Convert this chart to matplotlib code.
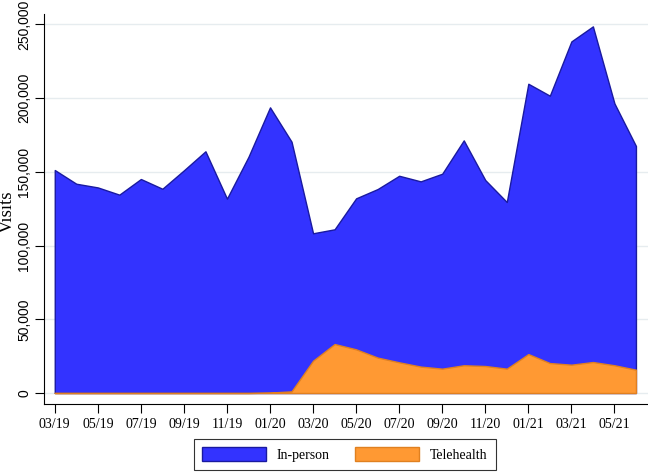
import numpy as np
import matplotlib.pyplot as plt

# visitas mensuales, 03/19 a 06/21
meses = ["03/19", "04/19", "05/19", "06/19", "07/19", "08/19", "09/19", "10/19",
         "11/19", "12/19", "01/20", "02/20", "03/20", "04/20", "05/20", "06/20",
         "07/20", "08/20", "09/20", "10/20", "11/20", "12/20", "01/21", "02/21",
         "03/21", "04/21", "05/21", "06/21"]

presencial = [151200, 141900, 139400, 134500, 145100, 138500, 151000, 163900,
              131800, 160200, 193700, 170400, 108300, 111000, 132000, 138300,
              147300, 143500, 148700, 171300, 144400, 129500, 209700, 201600,
              238400, 248600, 196400, 167500]

telesalud = [0, 0, 0, 0, 0, 0, 0, 0,
             0, 0, 300, 1100, 21900, 33200, 29600, 24000,
             20800, 17900, 16500, 18800, 18300, 16500, 26400, 20300,
             19200, 21000, 18800, 15800]

y_ticks = [0, 50000, 100000, 150000, 200000, 250000]

x = np.arange(len(meses))

fig = plt.figure(figsize=(6.48, 4.72), dpi=100)
ax = fig.add_axes([44 / 648, 1 - 404 / 472, 604 / 648, 390 / 472])

ax.fill_between(x, 0, presencial, facecolor="#3333ff", edgecolor="#1a1aa0",
                linewidth=1.0, label="In-person", zorder=2)
ax.fill_between(x, 0, telesalud, facecolor="#ff9933", edgecolor="#e08020",
                linewidth=1.0, label="Telehealth", zorder=3)

ax.set_xlim(-0.5, 27.56)
ax.set_ylim(-7460, 257000)

ax.set_yticks(y_ticks)
ax.set_yticklabels([f"{v:,}" for v in y_ticks], rotation=90, va="center",
                   family="Liberation Sans", fontsize=10)
ax.set_xticks(x[::2])
ax.set_xticklabels(meses[::2], family="Liberation Serif", fontsize=10)
ax.tick_params(axis="both", direction="out", length=6.5, width=0.8, color="black")
ax.tick_params(axis="y", pad=2.5)

ax.grid(axis="y", color="#e6ecef", linewidth=1.0, zorder=0)
ax.set_axisbelow(True)
for lado in ["top", "right"]:
    ax.spines[lado].set_visible(False)
ax.spines["left"].set_linewidth(0.8)
ax.spines["bottom"].set_linewidth(0.8)

ax.set_ylabel("Visits", family="Liberation Serif", fontsize=13.5)
ax.yaxis.set_label_coords(-0.046, 0.492)

leg = ax.legend(loc="upper center", bbox_to_anchor=(0.498, -0.0897), ncol=2,
                frameon=True, fancybox=False, edgecolor="black",
                prop={"family": "Liberation Serif", "size": 10},
                handlelength=4.6, handleheight=1.15, columnspacing=1.8,
                borderpad=0.6, handletextpad=0.8, borderaxespad=0)
leg.get_frame().set_linewidth(0.8)

fig.savefig("out.png", dpi=100)
